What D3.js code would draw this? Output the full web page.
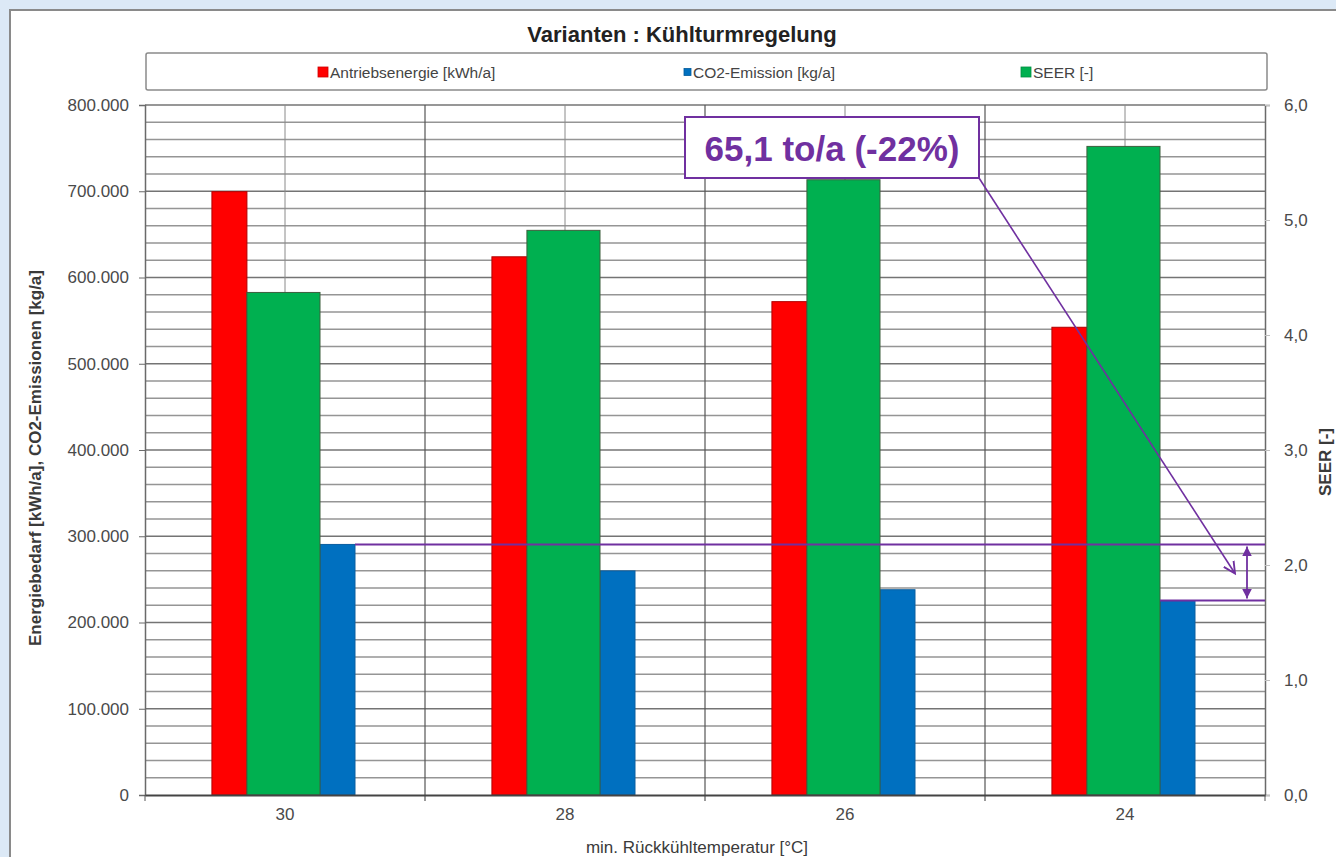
<!DOCTYPE html>
<html><head><meta charset="utf-8">
<script src="https://cdn.jsdelivr.net/npm/d3@7"></script>
<style>
html,body{margin:0;padding:0;background:#dce9f6;}
svg{display:block;font-family:"Liberation Sans",Arial,sans-serif;}
</style></head>
<body>
<svg id="c" width="1336" height="857"></svg>
<script>
// ---- data ----
const categories = ["30", "28", "26", "24"];
const antriebsenergie = [699500, 624000, 572000, 542300];   // kWh/a
const co2Emission = [290500, 259800, 238000, 225400];        // kg/a
const seer = [4.37, 4.91, 5.35, 5.64];                       // [-]
const leftTicks = [0, 100000, 200000, 300000, 400000, 500000, 600000, 700000, 800000];
const rightTicks = [0, 1, 2, 3, 4, 5, 6];
const seriesNames = ["Antriebsenergie [kWh/a]", "CO2-Emission [kg/a]", "SEER [-]"];
const annotationText = "65,1 to/a (-22%)";

const colors = {red: "#ff0000", blue: "#0070c0", green: "#00b050", purple: "#7030a0"};

const de = d3.formatLocale({decimal: ",", thousands: ".", grouping: [3], currency: ["", "€"]});
const fmtL = de.format(",.0f");
const fmtR = de.format(".1f");

const svg = d3.select("#c");
const L = 145, R = 1265, T = 105, B = 795;

// chart frame
svg.append("rect").attr("x", 10).attr("y", 10).attr("width", 1400).attr("height", 900)
  .attr("fill", "#fff").attr("stroke", "#8a8a8a").attr("stroke-width", 2);

const x = d3.scaleBand().domain(categories).range([L, R]).padding(0);
const yL = d3.scaleLinear().domain([0, 800000]).range([B, T]);
const yR = d3.scaleLinear().domain([0, 6]).range([B, T]);

// gridlines every 20.000
const grid = svg.append("g");
d3.range(20000, 800001, 20000).forEach(v => {
  grid.append("line").attr("x1", L).attr("x2", R).attr("y1", yL(v)).attr("y2", yL(v))
    .attr("stroke", v % 100000 === 0 ? "#747474" : "#959595").attr("stroke-width", 1.5);
});
// vertical gridlines at centers and boundaries
categories.forEach(c => {
  const cx = x(c) + x.bandwidth() / 2;
  grid.append("line").attr("x1", cx).attr("x2", cx).attr("y1", T).attr("y2", B)
    .attr("stroke", "#8a8a8a").attr("stroke-width", 1);
});
categories.slice(1).forEach(c => {
  grid.append("line").attr("x1", x(c)).attr("x2", x(c)).attr("y1", T).attr("y2", B + 6)
    .attr("stroke", "#555").attr("stroke-width", 1.2);
});

// bar slots as fractions of the band
const slot = {red: [0.239, 0.364], green: [0.364, 0.625], blue: [0.625, 0.75]};
const bw = x.bandwidth();
const gBars = svg.append("g");
function bars(vals, scale, key, stroke) {
  gBars.selectAll(null).data(vals).enter().append("rect")
    .attr("x", (d, i) => x(categories[i]) + slot[key][0] * bw)
    .attr("width", (slot[key][1] - slot[key][0]) * bw)
    .attr("y", d => scale(d))
    .attr("height", d => B - scale(d))
    .attr("fill", colors[key])
    .attr("stroke", stroke).attr("stroke-width", 1);
}
bars(antriebsenergie, yL, "red", "#b00000");
bars(co2Emission, yL, "blue", "#0a5ea0");
bars(seer, yR, "green", "#3d5e3d");

// axes
const axL = svg.append("g").attr("transform", `translate(${L},0)`)
  .call(d3.axisLeft(yL).tickValues(leftTicks).tickFormat(fmtL).tickSize(6).tickPadding(10));
const axR = svg.append("g").attr("transform", `translate(${R},0)`)
  .call(d3.axisRight(yR).tickValues(rightTicks).tickFormat(fmtR).tickSize(5).tickPadding(14));
const axB = svg.append("g").attr("transform", `translate(0,${B})`)
  .call(d3.axisBottom(x).tickSize(0).tickPadding(13));
[axL, axR, axB].forEach(a => {
  a.select(".domain").attr("stroke", "#6a6a6a").attr("stroke-width", 1.5);
  a.selectAll(".tick line").attr("stroke", "#6a6a6a");
  a.selectAll("text").attr("font-family", "Liberation Sans, Arial, sans-serif")
    .attr("font-size", 17).attr("fill", "#4a4a4a");
});
axR.selectAll(".tick line").attr("stroke", "#c0c0c0");
axB.select(".domain").attr("stroke", "#444").attr("stroke-width", 2);
// x boundary ticks at ends
[L, R].forEach(px => svg.append("line").attr("x1", px).attr("x2", px).attr("y1", B).attr("y2", B + 6).attr("stroke", "#555"));

// title
svg.append("text").attr("x", 682).attr("y", 42).attr("text-anchor", "middle")
  .attr("font-size", 22).attr("font-weight", "bold").attr("fill", "#222")
  .text("Varianten : Kühlturmregelung");

// legend
svg.append("rect").attr("x", 146).attr("y", 53).attr("width", 1121).attr("height", 37).attr("rx", 2)
  .attr("fill", "#fff").attr("stroke", "#8a8a8a").attr("stroke-width", 1.5);
const legendItems = [
  {name: seriesNames[0], color: colors.red, x: 318, s: 10},
  {name: seriesNames[1], color: colors.blue, x: 684, s: 7},
  {name: seriesNames[2], color: colors.green, x: 1021, s: 10}
];
legendItems.forEach(it => {
  svg.append("rect").attr("x", it.x).attr("y", 72 - it.s / 2).attr("width", it.s).attr("height", it.s)
    .attr("fill", it.color).attr("stroke", d3.color(it.color).darker(0.6)).attr("stroke-width", 0.8);
  svg.append("text").attr("x", it.x + it.s + 2).attr("y", 78).attr("font-size", 15.5)
    .attr("fill", "#444").text(it.name);
});

// axis titles
svg.append("text").attr("transform", "translate(41,458) rotate(-90)").attr("text-anchor", "middle")
  .attr("font-size", 17).attr("font-weight", "bold").attr("fill", "#3a3a3a")
  .text("Energiebedarf [kWh/a], CO2-Emissionen [kg/a]");
svg.append("text").attr("transform", "translate(1331,462) rotate(-90)").attr("text-anchor", "middle")
  .attr("font-size", 17).attr("font-weight", "bold").attr("fill", "#3a3a3a")
  .text("SEER [-]");
svg.append("text").attr("x", 697).attr("y", 853).attr("text-anchor", "middle")
  .attr("font-size", 17).attr("fill", "#3a3a3a")
  .text("min. Rückkühltemperatur [°C]");

// annotation
const defs = svg.append("defs");
defs.append("marker").attr("id", "open").attr("viewBox", "-10 -6 12 12").attr("refX", 0).attr("refY", 0)
  .attr("markerWidth", 14).attr("markerHeight", 14).attr("markerUnits", "userSpaceOnUse").attr("orient", "auto")
  .append("path").attr("d", "M-10,-5 L0,0 L-10,5").attr("fill", "none").attr("stroke", colors.purple).attr("stroke-width", 1.6);
defs.append("marker").attr("id", "solid").attr("viewBox", "-10 -5 10 10").attr("refX", 0).attr("refY", 0)
  .attr("markerWidth", 10).attr("markerHeight", 10).attr("markerUnits", "userSpaceOnUse").attr("orient", "auto-start-reverse")
  .append("path").attr("d", "M-10,-5 L0,0 L-10,5 Z").attr("fill", colors.purple);

const yHi = yL(co2Emission[0]), yLo = yL(co2Emission[3]);
const ann = svg.append("g");
ann.append("line").attr("x1", x(categories[0]) + slot.blue[1] * bw).attr("x2", R)
  .attr("y1", yHi).attr("y2", yHi).attr("stroke", colors.purple).attr("stroke-width", 2);
ann.append("line").attr("x1", x(categories[3]) + slot.blue[0] * bw).attr("x2", R)
  .attr("y1", yLo).attr("y2", yLo).attr("stroke", colors.purple).attr("stroke-width", 2);
ann.append("line").attr("x1", 1247).attr("x2", 1247).attr("y1", yHi + 2).attr("y2", yLo - 2)
  .attr("stroke", colors.purple).attr("stroke-width", 1.8)
  .attr("marker-start", "url(#solid)").attr("marker-end", "url(#solid)");
ann.append("line").attr("x1", 979).attr("y1", 178).attr("x2", 1235).attr("y2", (yHi + yLo) / 2 + 1)
  .attr("stroke", colors.purple).attr("stroke-width", 1.6).attr("marker-end", "url(#open)");
ann.append("rect").attr("x", 685).attr("y", 117).attr("width", 294).attr("height", 61)
  .attr("fill", "#fff").attr("stroke", colors.purple).attr("stroke-width", 2);
ann.append("text").attr("x", 832).attr("y", 161).attr("text-anchor", "middle")
  .attr("font-size", 35).attr("font-weight", "bold").attr("fill", colors.purple)
  .text(annotationText);
</script>
</body></html>
